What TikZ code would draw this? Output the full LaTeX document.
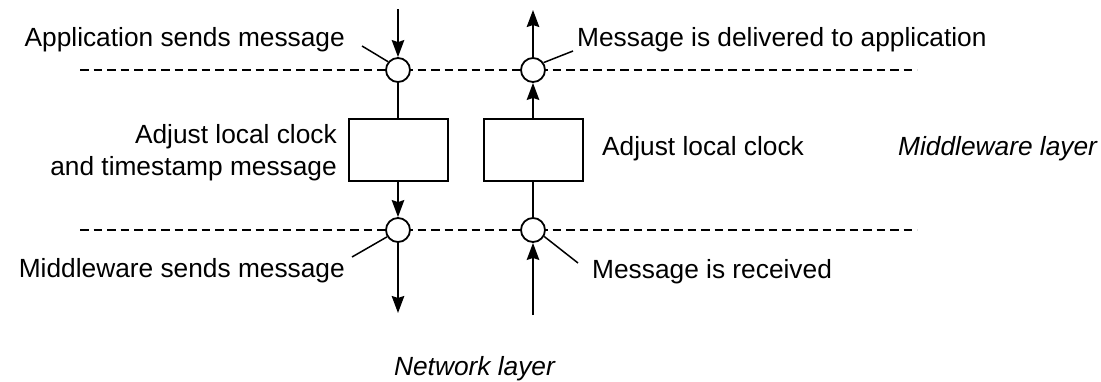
\documentclass[tikz,border=0pt]{standalone}
\usepackage{fontspec}
\setmainfont{Liberation Sans}
\usetikzlibrary{arrows.meta}

\tikzset{
  lbl/.style={inner sep=0pt, font=\fontsize{26.3}{32}\selectfont},
  layerlbl/.style={lbl, font=\fontsize{26.3}{32}\selectfont\itshape},
  flow/.style={line width=1.8pt},
  tip/.style={-{Stealth[length=17pt,width=12.5pt,inset=2pt]}},
  leader/.style={line width=1.5pt},
  layerline/.style={line width=1.8pt, dash pattern=on 8.5pt off 5pt},
  event/.style={circle, draw, fill=white, line width=1.8pt, minimum size=24pt, inner sep=0pt},
  procbox/.style={rectangle, draw, fill=white, line width=1.8pt, minimum width=99pt, minimum height=62pt, inner sep=0pt}
}

\begin{document}
\begin{tikzpicture}[x=1pt,y=-1pt]
  \useasboundingbox (0,0) rectangle (1101,381);

  % layer boundaries
  \draw[layerline] (80,70) -- (917,70);
  \draw[layerline] (80,230) -- (917,230);

  % sender side (left column) and receiver side (right column)
  \node[event] (sa) at (398,70) {};
  \node[event] (ra) at (533,70) {};
  \node[event] (sn) at (398,230) {};
  \node[event] (rn) at (533,230) {};
  \node[procbox] (sbox) at (398.5,150) {};
  \node[procbox] (rbox) at (533.5,150) {};

  \coordinate (sin) at (398,9);
  \coordinate (rout) at (533,10);
  \coordinate (sout) at (398,313);
  \coordinate (rin) at (533,315);

  \draw[flow,tip] (sin) -- (sa.north);
  \draw[flow] (sa.south) -- (sa.south |- sbox.north);
  \draw[flow,tip] (sbox.south -| sn.north) -- (sn.north);
  \draw[flow,tip] (sn.south) -- (sout);

  \draw[flow,tip] (rin) -- (rn.south);
  \draw[flow] (rn.north) -- (rn.north |- rbox.south);
  \draw[flow,tip] (rbox.north -| ra.south) -- (ra.south);
  \draw[flow,tip] (ra.north) -- (rout);

  % labels
  \node[lbl, anchor=base east] (tsa) at (345,46) {Application sends message};
  \node[lbl, anchor=base west] (tra) at (577,46) {Message is delivered to application};
  \node[lbl, anchor=base east] (tadj1) at (337,143) {Adjust local clock};
  \node[lbl, anchor=base east] (tadj2) at (337,175) {and timestamp message};
  \node[lbl, anchor=base west] (tradj) at (602,155) {Adjust local clock};
  \node[layerlbl, anchor=base west] (tmid) at (898,155) {Middleware layer};
  \node[lbl, anchor=base east] (tsn) at (345,277) {Middleware sends message};
  \node[lbl, anchor=base west] (trn) at (592,278) {Message is received};
  \node[layerlbl, anchor=base] (tnet) at (474.5,375) {Network layer};

  % leader lines from labels to events
  \coordinate (lsa) at (362,46);
  \coordinate (lra) at (573,51);
  \coordinate (lsn) at (352,257);
  \coordinate (lrn) at (578,263);
  \draw[leader] (lsa) -- (sa.140);
  \draw[leader] (lra) -- (ra.35);
  \draw[leader] (lsn) -- (sn.212);
  \draw[leader] (lrn) -- (rn.330);
\end{tikzpicture}
\end{document}
